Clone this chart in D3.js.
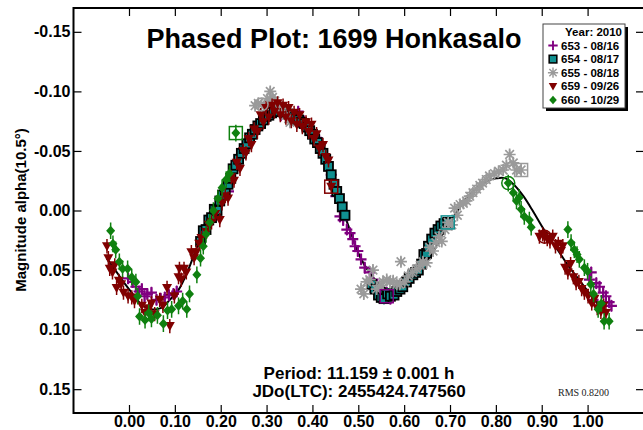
<!DOCTYPE html>
<html>
<head>
<meta charset="utf-8">
<script src="https://cdn.jsdelivr.net/npm/d3@7"></script>
<style>
  body { margin: 0; background: #fff; }
  svg { display: block; }
  text { font-family: "Liberation Sans", Arial, sans-serif; }
</style>
</head>
<body>
<svg id="chart" width="643" height="430"></svg>
<script>
// ---- axis ticks ----
const xTicks = [0, 0.1, 0.2, 0.3, 0.4, 0.5, 0.6, 0.7, 0.8, 0.9, 1.0];
const xTickLabels = ["0.00", "0.10", "0.20", "0.30", "0.40", "0.50", "0.60", "0.70", "0.80", "0.90", "1.00"];
const yTicks = [-0.15, -0.10, -0.05, 0, 0.05, 0.10, 0.15];
const yTickLabels = ["-0.15", "-0.10", "-0.05", "0.00", "0.05", "0.10", "0.15"];

// ---- sessions ----
const seriesNames = ["653 - 08/16", "654 - 08/17", "655 - 08/18", "659 - 09/26", "660 - 10/29"];
const seriesErr = [0.005, 0.005, 0.004, 0.006, 0.007];

// [phase, magnitude]
const s653 = [
  [-0.002,0.057],[0.008,0.060],[0.015,0.064],[0.022,0.068],[0.028,0.066],[0.034,0.072],[0.040,0.070],
  [0.049,0.069],[0.060,0.075],[0.069,0.074],[0.078,0.073],[0.087,0.071],[0.097,0.070],[0.104,0.068],
  [0.217,-0.016],
  [0.331,-0.080],[0.346,-0.082],[0.358,-0.080],[0.369,-0.083],[0.381,-0.075],[0.392,-0.068],[0.405,-0.062],
  [0.419,-0.057],[0.431,-0.044],[0.441,-0.030],[0.451,-0.012],[0.460,0.005],[0.467,0.008],[0.475,0.016],
  [0.482,0.019],[0.488,0.024],[0.493,0.030],[0.499,0.034],[0.506,0.041],[0.514,0.048],[0.525,0.052],
  [0.532,0.058],[0.540,0.063],[0.551,0.068],[0.562,0.069],[0.570,0.074],
  [1.004,0.058],[1.008,0.052],[1.012,0.075],[1.019,0.061],[1.026,0.064],[1.034,0.069],[1.040,0.072],
  [1.047,0.077],[1.052,0.080]
];
const s654 = [
  [0.156,0.026],[0.162,0.017],[0.168,0.016],[0.174,0.008],[0.180,0.006],[0.186,-0.001],[0.192,0.000],
  [0.198,-0.008],[0.204,-0.013],[0.210,-0.017],[0.216,-0.022],[0.222,-0.027],[0.227,-0.035],[0.233,-0.038],
  [0.239,-0.043],[0.245,-0.048],[0.251,-0.052],[0.257,-0.056],[0.263,-0.061],[0.269,-0.064],[0.275,-0.068],
  [0.281,-0.071],[0.287,-0.073],[0.293,-0.076],[0.299,-0.079],[0.305,-0.080],[0.311,-0.082],[0.316,-0.083],
  [0.322,-0.084],[0.328,-0.083],[0.334,-0.083],[0.340,-0.082],[0.346,-0.081],[0.352,-0.080],[0.358,-0.079],
  [0.364,-0.077],[0.370,-0.076],[0.376,-0.074],[0.382,-0.073],[0.388,-0.070],[0.394,-0.067],[0.400,-0.064],
  [0.405,-0.060],[0.411,-0.057],[0.417,-0.052],[0.423,-0.048],[0.429,-0.043],[0.435,-0.037],[0.441,-0.030],
  [0.447,-0.022],[0.453,-0.016],[0.459,-0.010],[0.465,-0.003],[0.471,0.004],
  [0.529,0.062],[0.536,0.066],[0.544,0.071],[0.550,0.073],[0.556,0.074],[0.564,0.070],[0.570,0.072],
  [0.578,0.071],[0.584,0.068],[0.591,0.066],[0.597,0.064],[0.605,0.060],[0.611,0.057],[0.619,0.054],
  [0.625,0.052],[0.631,0.050],[0.638,0.045],[0.643,0.037],[0.649,0.036],[0.653,0.030],[0.660,0.024],
  [0.667,0.019],[0.674,0.016],[0.680,0.013],[0.687,0.011],[0.695,0.010]
];
const s655 = [
  [0.275,-0.088],[0.282,-0.090],[0.289,-0.089],[0.295,-0.088],[0.302,-0.094],[0.308,-0.100],[0.313,-0.095],
  [0.318,-0.092],[0.326,-0.088],[0.334,-0.086],[0.342,-0.080],[0.351,-0.074],
  [0.506,0.066],[0.512,0.070],[0.518,0.060],[0.525,0.058],[0.532,0.050],[0.540,0.066],[0.547,0.063],
  [0.554,0.060],[0.562,0.058],[0.569,0.060],[0.576,0.059],[0.584,0.062],[0.590,0.062],[0.593,0.043],
  [0.601,0.060],[0.609,0.055],[0.618,0.052],[0.627,0.049],[0.635,0.046],[0.641,0.043],[0.649,0.044],
  [0.656,0.031],[0.663,0.034],[0.669,0.027],[0.676,0.022],[0.682,0.026],[0.689,0.016],[0.696,0.010],
  [0.704,0.012],[0.710,-0.002],[0.716,0.004],[0.722,-0.005],[0.729,-0.006],[0.736,-0.008],[0.743,-0.012],
  [0.750,-0.015],[0.758,-0.018],[0.765,-0.021],[0.771,-0.023],[0.779,-0.026],[0.786,-0.029],[0.797,-0.031],
  [0.806,-0.033],[0.816,-0.034],[0.823,-0.038],[0.830,-0.047],[0.838,-0.040],[0.845,-0.034],[0.855,-0.034]
];
const s659 = [
  [-0.048,0.030],[-0.045,0.040],[-0.042,0.049],[-0.036,0.052],[-0.031,0.046],[-0.027,0.065],[-0.022,0.059],
  [-0.017,0.062],[-0.012,0.069],[-0.002,0.072],[0.006,0.073],[0.012,0.076],[0.028,0.080],[0.035,0.086],
  [0.043,0.082],[0.049,0.078],[0.056,0.087],[0.067,0.075],[0.074,0.080],[0.083,0.065],[0.089,0.097],
  [0.099,0.072],[0.108,0.056],[0.110,0.049],[0.114,0.058],[0.120,0.049],[0.125,0.052],[0.136,0.035],
  [0.142,0.040],[0.147,0.035],[0.153,0.028],[0.158,0.023],[0.169,0.018],[0.174,0.012],[0.180,0.010],
  [0.188,0.003],[0.198,0.008],
  [0.203,-0.006],[0.210,-0.012],[0.216,-0.010],[0.223,-0.028],[0.229,-0.025],[0.235,-0.040],[0.242,-0.035],
  [0.249,-0.050],[0.255,-0.048],[0.261,-0.060],[0.267,-0.055],[0.273,-0.068],[0.280,-0.066],[0.287,-0.080],
  [0.293,-0.074],[0.299,-0.086],[0.305,-0.078],[0.312,-0.088],[0.317,-0.083],[0.324,-0.090],[0.330,-0.080],
  [0.336,-0.088],[0.342,-0.078],[0.348,-0.086],[0.354,-0.075],[0.360,-0.082],[0.366,-0.072],[0.372,-0.080],
  [0.378,-0.070],[0.386,-0.074],[0.392,-0.066],[0.398,-0.072],[0.403,-0.060],[0.409,-0.064],[0.415,-0.052],
  [0.423,-0.055],[0.429,-0.045],[0.435,-0.042],[0.441,-0.020],
  [0.895,0.022],[0.902,0.020],[0.906,0.022],[0.912,0.024],[0.918,0.026],[0.924,0.022],[0.930,0.030],
  [0.936,0.028],[0.942,0.034],[0.946,0.030],[0.951,0.048],[0.957,0.052],[0.963,0.045],[0.969,0.056],
  [0.975,0.061],[0.981,0.060],[0.987,0.066],[0.993,0.069],[1.001,0.072],[1.009,0.078],[1.015,0.074],
  [1.021,0.082],[1.029,0.085],[1.035,0.080],[1.040,0.086]
];
const s660 = [
  [-0.040,0.017],[-0.035,0.028],[-0.029,0.033],[-0.021,0.043],[-0.014,0.049],[-0.003,0.049],[0.006,0.056],
  [0.015,0.060],[0.019,0.072],[0.023,0.089],[0.035,0.092],[0.043,0.086],[0.049,0.091],[0.062,0.088],
  [0.075,0.095],[0.084,0.084],[0.093,0.083],[0.108,0.080],[0.117,0.076],[0.126,0.083],[0.132,0.070],
  [0.148,0.054],[0.156,0.040],[0.162,0.030],[0.168,0.020],[0.176,0.010],[0.184,0.000],[0.194,-0.010],
  [0.203,-0.019],[0.212,-0.026],[0.219,-0.031],[0.233,-0.065],
  [0.827,-0.023],[0.838,-0.015],[0.845,-0.008],[0.851,-0.011],[0.855,-0.001],[0.862,0.005],[0.873,0.008],
  [0.877,0.014],[0.957,0.016],[0.964,0.027],[0.971,0.033],[0.977,0.037],[0.982,0.041],[0.993,0.048],
  [1.000,0.051],[1.007,0.062],[1.013,0.070],[1.023,0.083],[1.030,0.078],[1.036,0.093],[1.047,0.093]
];
const seriesData = [s653, s654, s655, s659, s660];

// first point of each night: [series index, phase, magnitude]
const sessionStart = [
  [0, 0.562, 0.072], [1, 0.695, 0.010], [2, 0.289, -0.089], [2, 0.855, -0.034],
  [3, 0.441, -0.020], [3, 0.906, 0.022], [4, 0.233, -0.065], [4, 0.827, -0.023]
];
const sessionStartRing = ["square", "square", "circle", "square", "square", "circle", "square", "circle"];

// Fourier fit
const fitCurve = [
  [-0.049,0.040],[-0.030,0.050],[-0.010,0.061],[0.010,0.071],[0.030,0.080],[0.049,0.083],[0.069,0.082],
  [0.089,0.075],[0.109,0.066],[0.129,0.050],[0.148,0.031],[0.168,0.014],[0.188,-0.002],[0.208,-0.019],
  [0.227,-0.035],[0.247,-0.050],[0.267,-0.063],[0.287,-0.074],[0.307,-0.081],[0.326,-0.083],[0.346,-0.081],
  [0.366,-0.078],[0.386,-0.072],[0.405,-0.062],[0.425,-0.046],[0.445,-0.025],[0.465,-0.002],[0.485,0.020],
  [0.504,0.039],[0.524,0.052],[0.544,0.061],[0.564,0.066],[0.584,0.066],[0.603,0.062],[0.623,0.055],
  [0.643,0.046],[0.663,0.035],[0.682,0.021],[0.702,0.009],[0.722,-0.003],[0.742,-0.013],[0.762,-0.020],
  [0.781,-0.025],[0.801,-0.027],[0.821,-0.027],[0.841,-0.021],[0.860,-0.012],[0.880,0.000],[0.900,0.013],
  [0.920,0.025],[0.940,0.036],[0.959,0.047],[0.979,0.057],[0.999,0.067],[1.019,0.077],[1.029,0.082]
];

// ---- styling ----
const seriesColors = ["#800080", "#108f8f", "#9a9a9a", "#800000", "#0f800f"];
const seriesShapes = ["cross", "square", "asterisk", "triangle", "diamond"];

const svg = d3.select("#chart");
const L = 73.5, R = 644, T = 8, B = 413;

const x = d3.scaleLinear().domain([-0.121, 1.123]).range([L, R]);
const y = d3.scaleLinear().domain([-0.17, 0.17]).range([T, B]);

svg.append("rect").attr("width", 643).attr("height", 430).attr("fill", "#fff");

svg.append("defs").append("clipPath").attr("id", "plotClip")
  .append("rect").attr("x", L).attr("y", T).attr("width", R - L).attr("height", B - T);

function drawMarker(g, shape, color) {
  switch (shape) {
    case "cross":
      g.append("path").attr("d", "M-5.5,0H5.5M0,-5.5V5.5")
        .attr("stroke", color).attr("stroke-width", 2.2).attr("fill", "none");
      break;
    case "square":
      g.append("rect").attr("x", -4.5).attr("y", -4.5).attr("width", 9).attr("height", 9)
        .attr("fill", color).attr("stroke", "#000").attr("stroke-width", 1.8);
      break;
    case "asterisk":
      g.append("path")
        .attr("d", "M-6,0H6M0,-6V6M-4.3,-4.3L4.3,4.3M-4.3,4.3L4.3,-4.3")
        .attr("stroke", color).attr("stroke-width", 1.7).attr("fill", "none");
      break;
    case "triangle":
      g.append("path").attr("d", "M-5,-4L5,-4L0,5Z").attr("fill", color);
      break;
    case "diamond":
      g.append("path").attr("d", "M0,-5L4.5,0L0,5L-4.5,0Z").attr("fill", color);
      break;
  }
}

const plot = svg.append("g").attr("clip-path", "url(#plotClip)");

// fit curve underneath the points
plot.append("path")
  .datum(fitCurve)
  .attr("fill", "none")
  .attr("stroke", "#000")
  .attr("stroke-width", 2)
  .attr("d", d3.line().x(d => x(d[0])).y(d => y(d[1])).curve(d3.curveCatmullRom));

seriesData.forEach((data, si) => {
  const color = seriesColors[si];
  const g = plot.append("g");
  g.selectAll("line.err").data(data).join("line")
    .attr("class", "err")
    .attr("x1", d => x(d[0])).attr("x2", d => x(d[0]))
    .attr("y1", d => y(d[1] - seriesErr[si])).attr("y2", d => y(d[1] + seriesErr[si]))
    .attr("stroke", color).attr("stroke-width", 1.5);
  g.selectAll("g.pt").data(data).join("g")
    .attr("class", "pt")
    .attr("transform", d => `translate(${x(d[0])},${y(d[1])})`)
    .each(function () { drawMarker(d3.select(this), seriesShapes[si], color); });
});

// rings marking the first point of each night
plot.selectAll("g.start").data(sessionStart).join("g")
  .attr("class", "start")
  .attr("transform", d => `translate(${x(d[1])},${y(d[2])})`)
  .each(function (d, i) {
    const g = d3.select(this);
    const color = seriesColors[d[0]];
    if (sessionStartRing[i] === "circle") {
      g.append("circle").attr("r", 6.5).attr("fill", "none")
        .attr("stroke", color).attr("stroke-width", 1.5);
    } else {
      g.append("rect").attr("x", -6.5).attr("y", -6.5).attr("width", 13).attr("height", 13)
        .attr("fill", "none").attr("stroke", color).attr("stroke-width", 1.5);
    }
  });

// ---- axes (ticks point inward) ----
function styleAxis(g) {
  g.select(".domain").remove();
  g.selectAll(".tick line").attr("stroke", "#000").attr("stroke-width", 1.2);
  g.selectAll(".tick text")
    .attr("fill", "#000")
    .style("font-family", "'Liberation Sans', Arial, sans-serif")
    .style("font-size", "16px")
    .style("font-weight", "bold");
}

svg.append("g").attr("transform", `translate(0,${B})`)
  .call(d3.axisBottom(x).tickValues(xTicks).tickFormat((d, i) => xTickLabels[i]).tickSize(-8).tickPadding(3))
  .call(styleAxis);
svg.append("g").attr("transform", `translate(0,${T})`)
  .call(d3.axisTop(x).tickValues(xTicks).tickFormat("").tickSize(-8))
  .call(styleAxis);
svg.append("g").attr("transform", `translate(${L},0)`)
  .call(d3.axisLeft(y).tickValues(yTicks).tickFormat((d, i) => yTickLabels[i]).tickSize(-8).tickPadding(3))
  .call(styleAxis);
svg.append("g").attr("transform", `translate(${R},0)`)
  .call(d3.axisRight(y).tickValues(yTicks).tickFormat("").tickSize(-8))
  .call(styleAxis);

// frame
svg.append("rect")
  .attr("x", L).attr("y", T).attr("width", R - L).attr("height", B - T)
  .attr("fill", "none").attr("stroke", "#000").attr("stroke-width", 2);

// ---- text ----
svg.append("text")
  .attr("x", 334).attr("y", 48)
  .attr("text-anchor", "middle")
  .style("font-size", "27px").style("font-weight", "bold")
  .text("Phased Plot: 1699 Honkasalo");

svg.append("text")
  .attr("transform", "translate(26,210) rotate(-90)")
  .attr("text-anchor", "middle")
  .style("font-size", "15px").style("font-weight", "bold")
  .text("Magnitude alpha(10.5°)");

svg.append("text")
  .attr("x", 359).attr("y", 379)
  .attr("text-anchor", "middle")
  .style("font-size", "17px").style("font-weight", "bold")
  .text("Period: 11.159 ± 0.001 h");

svg.append("text")
  .attr("x", 359).attr("y", 397)
  .attr("text-anchor", "middle")
  .style("font-size", "17px").style("font-weight", "bold")
  .text("JDo(LTC): 2455424.747560");

svg.append("text")
  .attr("x", 558).attr("y", 396)
  .style("font-family", "'Liberation Serif', 'Times New Roman', serif")
  .style("font-size", "10px")
  .attr("fill", "#222")
  .text("RMS 0.8200");

// ---- legend ----
const lg = svg.append("g");
const lx = 543, ly = 24, lw = 82, lh = 84;
lg.append("rect").attr("x", lx + 3).attr("y", ly + 3).attr("width", lw).attr("height", lh).attr("fill", "#000");
lg.append("rect").attr("x", lx).attr("y", ly).attr("width", lw).attr("height", lh)
  .attr("fill", "#fff").attr("stroke", "#444").attr("stroke-width", 1);
lg.append("text")
  .attr("x", lx + lw - 3).attr("y", ly + 12)
  .attr("text-anchor", "end")
  .style("font-size", "11.5px").style("font-weight", "bold")
  .text("Year: 2010");
seriesNames.forEach((name, i) => {
  const cy = ly + 21.5 + i * 13.6;
  const m = lg.append("g").attr("transform", `translate(${lx + 10},${cy}) scale(0.85)`);
  drawMarker(m, seriesShapes[i], seriesColors[i]);
  lg.append("text")
    .attr("x", lx + 18).attr("y", cy + 4)
    .style("font-size", "11.5px").style("font-weight", "bold")
    .text(name);
});
</script>
</body>
</html>
